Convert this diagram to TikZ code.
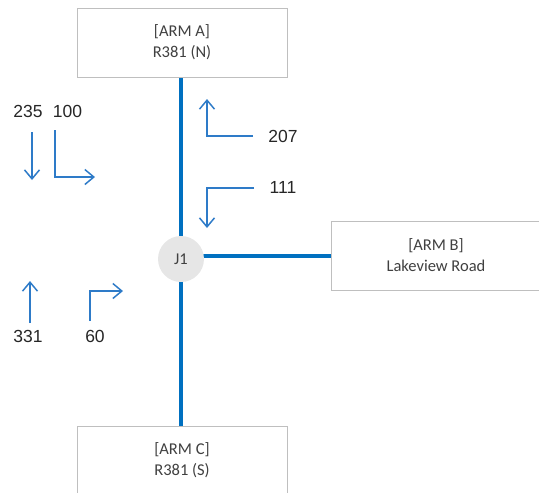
\documentclass[tikz,border=0pt]{standalone}
\usepackage{fontspec}
\setmainfont{Carlito}
\newfontfamily\numfont{Liberation Sans}
\usetikzlibrary{arrows.meta,backgrounds}
\definecolor{roadblue}{HTML}{0070C0}
\definecolor{arrblue}{HTML}{2E7BC8}
\definecolor{boxgray}{HTML}{BFBFBF}
\definecolor{jfill}{HTML}{E6E6E6}
\definecolor{txtgray}{HTML}{404040}
\tikzset{
  armbox/.style={draw=boxgray, line width=1pt, fill=white, minimum width=210pt, minimum height=69pt,
    inner sep=0pt, align=center, text=txtgray, font=\fontsize{16.5}{21}\selectfont},
  junction/.style={circle, fill=jfill, minimum size=46pt, inner sep=0pt, text=txtgray,
    font=\fontsize{16.5}{20}\selectfont},
  road/.style={draw=roadblue, line width=4pt},
  flow/.style={draw=arrblue, line width=1.5pt, -{Straight Barb[length=9pt,width=15pt]}},
  count/.style={inner sep=0pt, text=black!85, font=\numfont\fontsize{17.5}{20}\selectfont}
}
\begin{document}
\begin{tikzpicture}[x=1pt,y=-1pt]
\useasboundingbox (0,0) rectangle (539,493);
\clip (0,0) rectangle (539,493);
\node[armbox] (A) at (182,42.5) {[ARM A]\\R381 (N)};
\node[armbox] (B) at (436,255.5) {[ARM B]\\Lakeview Road};
\node[armbox] (C) at (182,460.5) {[ARM C]\\R381 (S)};
\node[junction] (J) at (181,259) {J1};
\begin{scope}[on background layer]
  \draw[road] (A.south -| J.center) -- (C.north -| J.center);
  \draw[road] (J.center |- B.west) -- (B.west);
\end{scope}
% counts
\node[count] (n235) at (28,111) {235};
\node[count] (n100) at (67.5,111) {100};
\node[count] (n207) at (283,136) {207};
\node[count] (n111) at (283,187) {111};
\node[count] (n331) at (28,336) {331};
\node[count] (n60) at (95,336) {60};
% movement arrows
\coordinate (a1s) at (32,132); \coordinate (a1e) at (32,180);
\draw[flow] (a1s) -- (a1e);
\coordinate (a2s) at (55,130); \coordinate (a2e) at (95,177);
\draw[flow] (a2s) |- (a2e);
\coordinate (a3s) at (253,136); \coordinate (a3e) at (207,99);
\draw[flow] (a3s) -| (a3e);
\coordinate (a4s) at (254,188); \coordinate (a4e) at (207,228);
\draw[flow] (a4s) -| (a4e);
\coordinate (a5s) at (30,323); \coordinate (a5e) at (30,281);
\draw[flow] (a5s) -- (a5e);
\coordinate (a6s) at (90,321); \coordinate (a6e) at (123,291);
\draw[flow] (a6s) |- (a6e);
\end{tikzpicture}
\end{document}
